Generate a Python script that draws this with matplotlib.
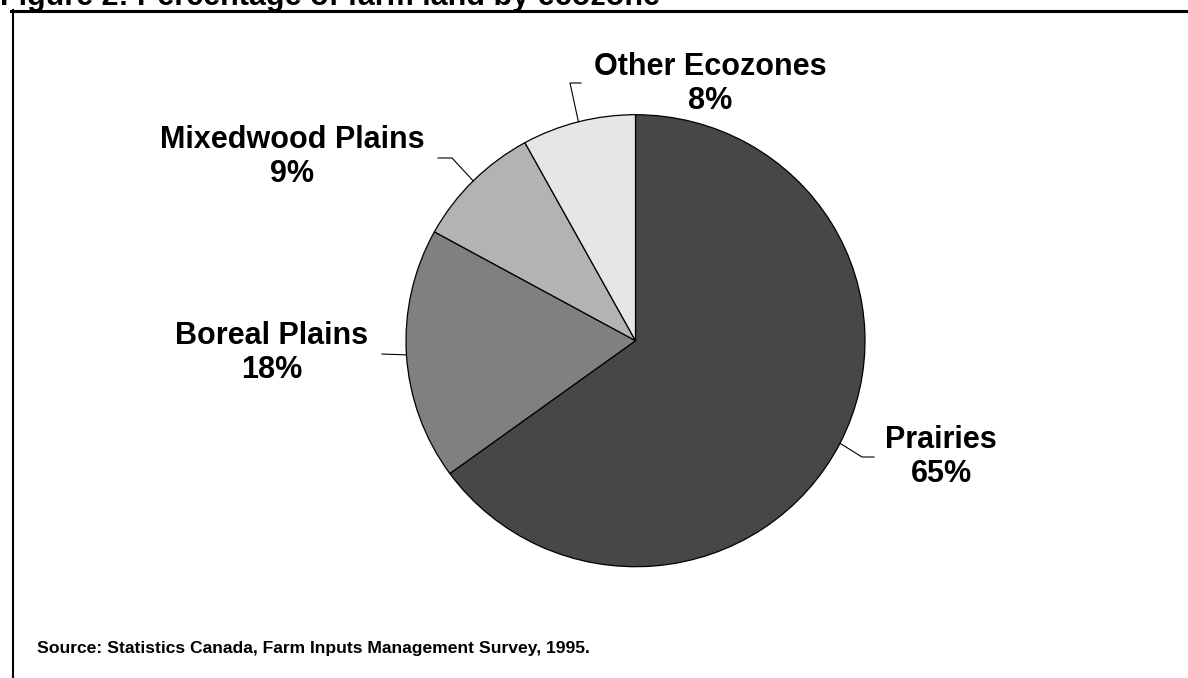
import numpy as np
import matplotlib
matplotlib.use("Agg")
import matplotlib.pyplot as plt
from matplotlib.lines import Line2D
from matplotlib.transforms import Affine2D

plt.rcParams['font.family'] = ['Liberation Sans', 'DejaVu Sans']

# data
zones = ['Prairies', 'Boreal Plains', 'Mixedwood Plains', 'Other Ecozones']
shares = [65, 18, 9, 8]
colors = ['#474747', '#808080', '#b3b3b3', '#e6e6e6']

W, H = 1188, 678
fig = plt.figure(figsize=(W / 100, H / 100), dpi=100)
# pixel coords measured from top-left
tpx = Affine2D().scale(1 / W, -1 / H).translate(0, 1) + fig.transFigure

# pie axes (slightly wider than tall, as in the original)
left, top, right, bottom = 406, 114.7, 865, 566.7
ax = fig.add_axes([left / W, 1 - bottom / H, (right - left) / W, (bottom - top) / H])
wedges, _ = ax.pie(shares, colors=colors, startangle=90, counterclock=False,
                   wedgeprops=dict(edgecolor='black', linewidth=0.9))
ax.set_aspect('auto')
ax.set_xlim(-1, 1)
ax.set_ylim(-1, 1)
ax.axis('off')

# label block centres and leader line elbows / ends (pixels)
label_pos = [(941, 457), (272, 353), (292, 157), (710, 84)]
elbows = [(862, 457), (382, 354), (452, 158), (570, 83)]
ends = [(874, 457), (382, 354), (438, 158), (581, 83)]

inv = tpx.inverted()
for w, name, pct, lp, el, en in zip(wedges, zones, shares, label_pos, elbows, ends):
    mid = np.deg2rad((w.theta1 + w.theta2) / 2)
    edge = inv.transform(ax.transData.transform((np.cos(mid), np.sin(mid))))
    xs = [edge[0], el[0], en[0]]
    ys = [edge[1], el[1], en[1]]
    fig.add_artist(Line2D(xs, ys, color='black', linewidth=0.8, transform=tpx))
    fig.text(lp[0], lp[1], f'{name}\n{pct}%', transform=tpx, ha='center', va='center',
             fontsize=22, fontweight='bold', linespacing=1.15, multialignment='center')

# frame lines
fig.add_artist(Line2D([11, W], [10.7, 10.7], color='black', linewidth=2.2, transform=tpx))
fig.add_artist(Line2D([12.7, 12.7], [10, H], color='black', linewidth=1.5, transform=tpx))

# title (cut off at the top edge, as in the original)
fig.text(0, 5, 'Figure 2: Percentage of farm land by ecozone', transform=tpx,
         ha='left', va='baseline', fontsize=22, fontweight='bold')

fig.text(37, 653, 'Source: Statistics Canada, Farm Inputs Management Survey, 1995.',
         transform=tpx, ha='left', va='baseline', fontsize=12.6, fontweight='bold')

fig.savefig('out.png', dpi=100)
